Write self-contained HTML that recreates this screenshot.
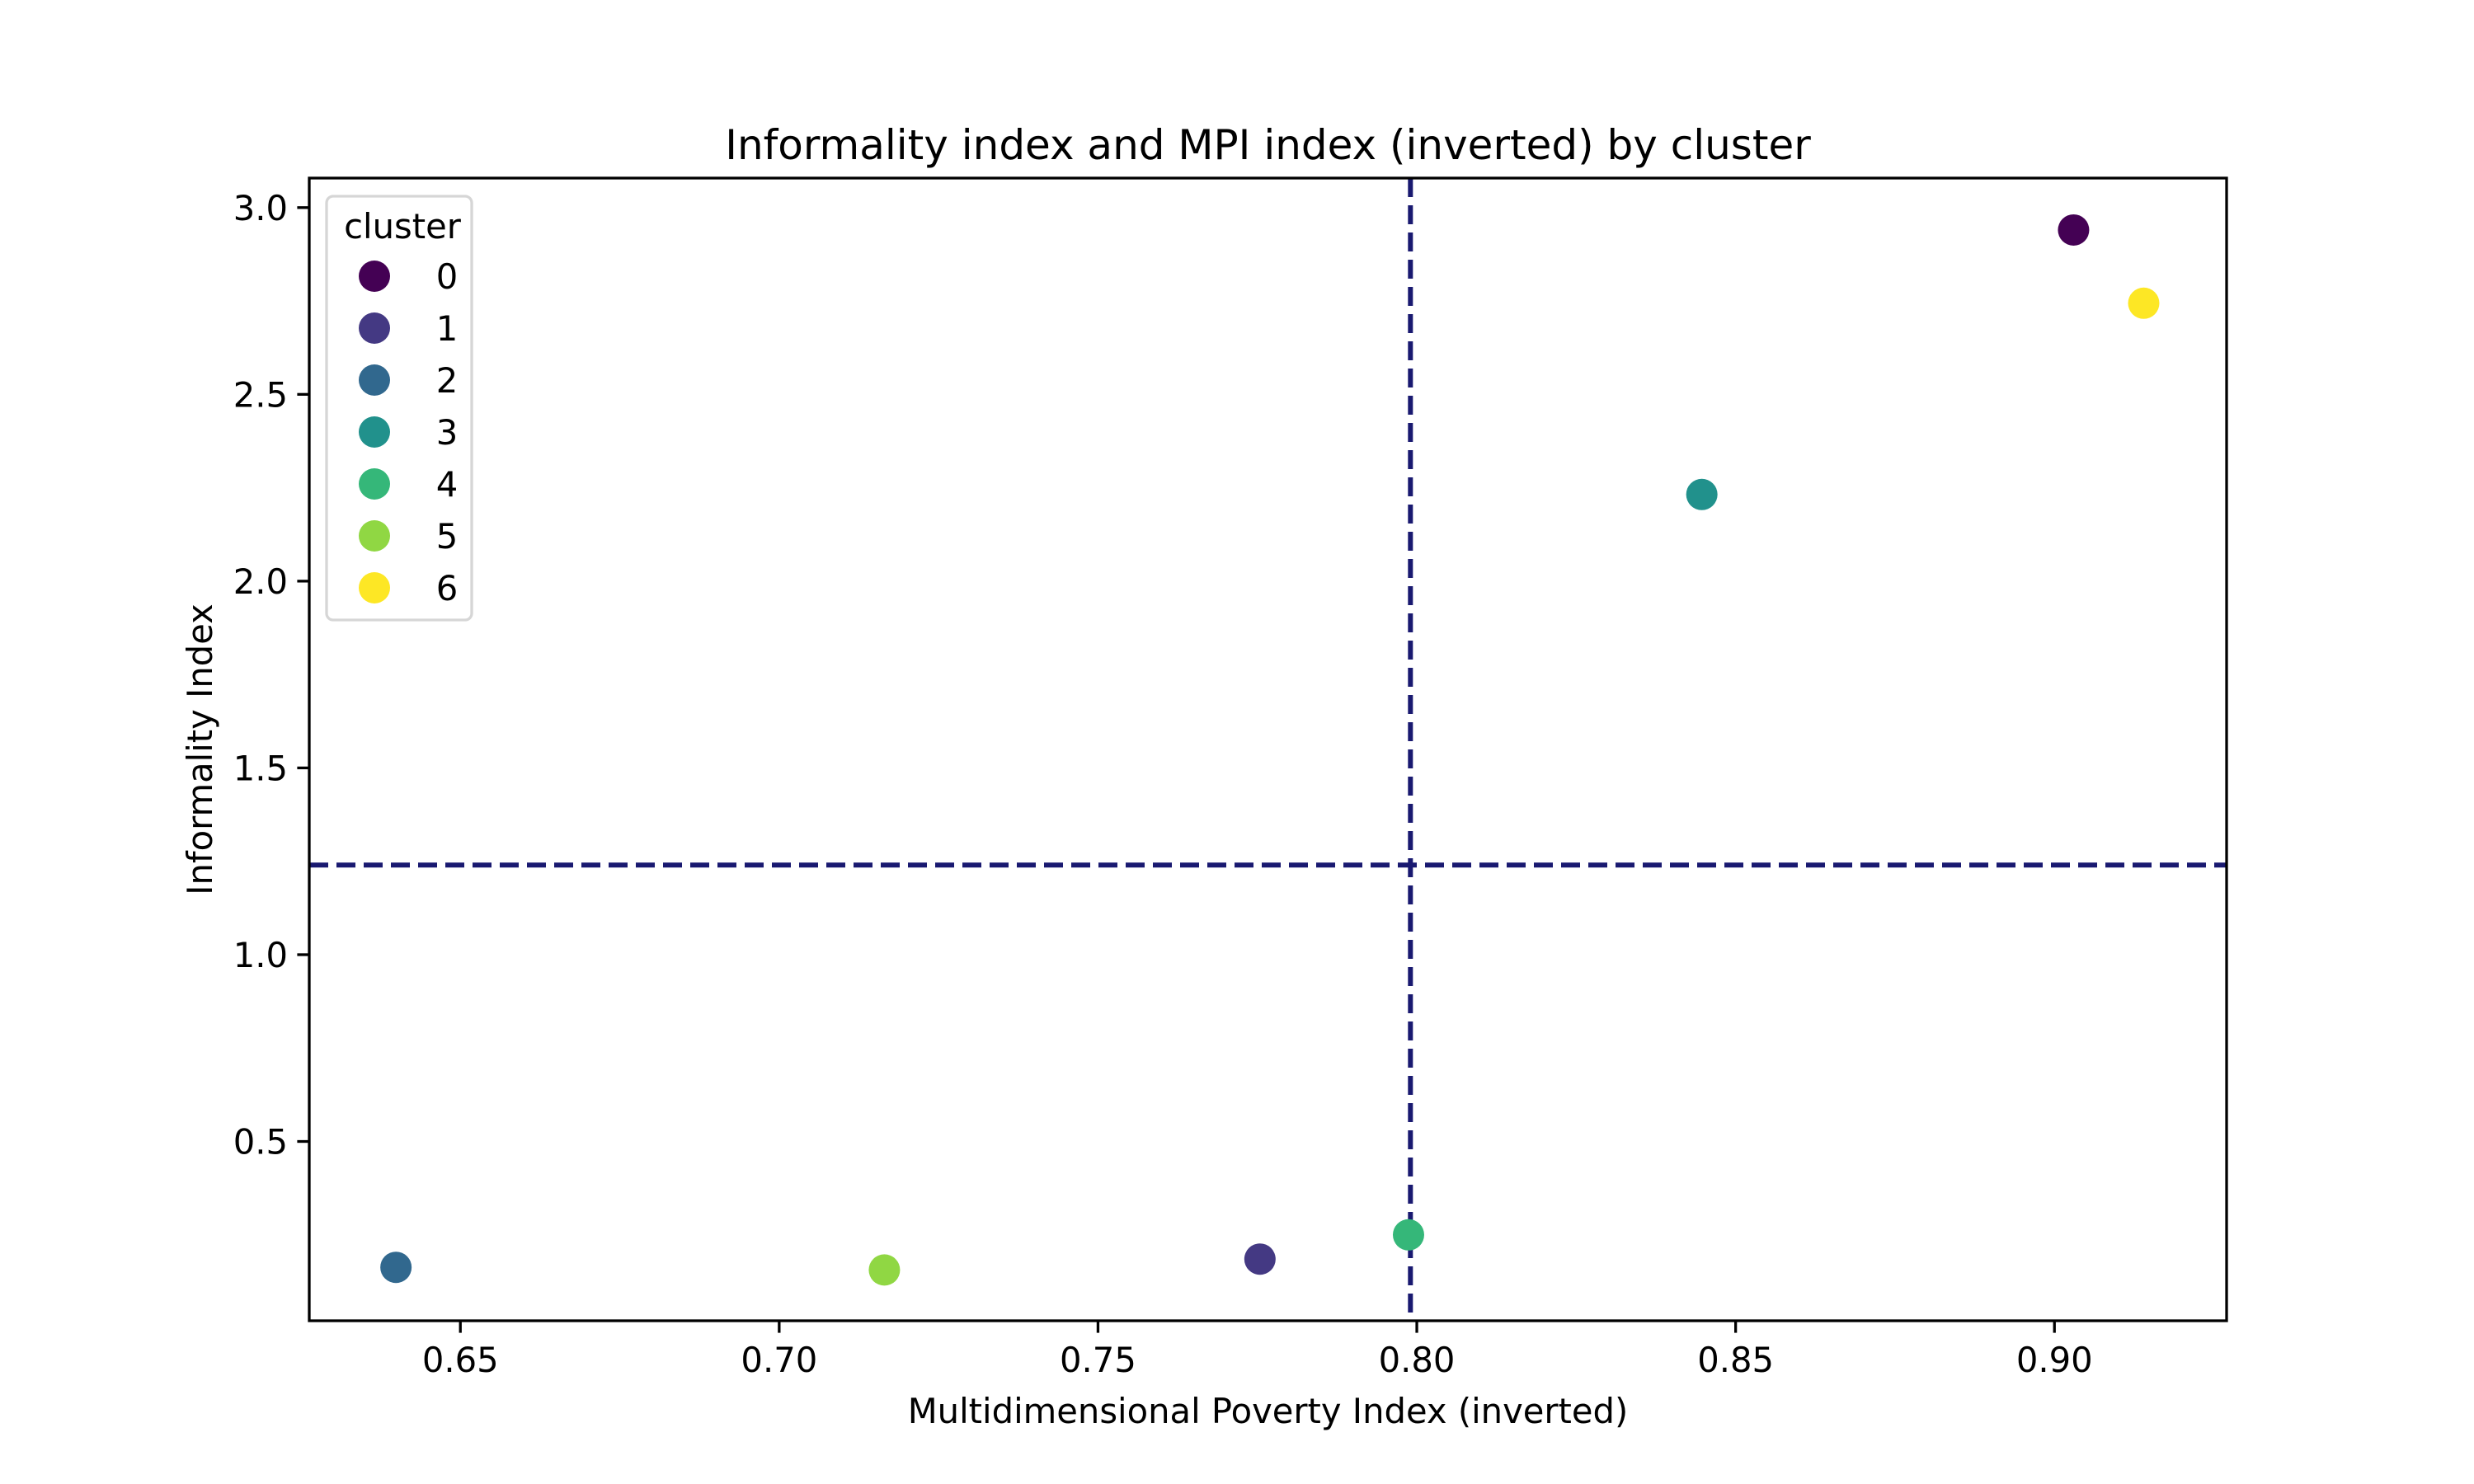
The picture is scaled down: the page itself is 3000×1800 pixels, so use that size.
<!DOCTYPE html>
<html><head><meta charset="utf-8"><style>html,body{margin:0;padding:0;background:#fff}svg{display:block}text{font-family:"DejaVu Sans","Liberation Sans",sans-serif;fill:#000}</style></head>
<body>
<svg id="chart" width="3000" height="1800" viewBox="0 0 3000 1800" xmlns="http://www.w3.org/2000/svg">
<rect x="0" y="0" width="3000" height="1800" fill="#fff"/>
<g id="plot"></g>
</svg>
<script>
const clusters = [0,1,2,3,4,5,6];
const mpiValues = [0.903,0.7754,0.6399,0.8447,0.7987,0.7165,0.914];
const informalityValues = [2.94,0.185,0.163,2.232,0.25,0.156,2.744];
const colors = ["#440154","#443983","#31688e","#21918c","#35b779","#90d743","#fde725"];
const xTicks = [0.65,0.70,0.75,0.80,0.85,0.90];
const yTicks = [0.5,1.0,1.5,2.0,2.5,3.0];
const vLine = 0.799;
const hLine = 1.24;

const L=375,R=2700,T=216,B=1602;
const xMin=0.6263,xMax=0.927,yMin=0.020,yMax=3.079;
const xs=v=>L+(v-xMin)/(xMax-xMin)*(R-L);
const ys=v=>B-(v-yMin)/(yMax-yMin)*(B-T);
const NS="http://www.w3.org/2000/svg";
const g=document.getElementById('plot');
function mk(tag,attrs,parent){const e=document.createElementNS(NS,tag);for(const k in attrs)e.setAttribute(k,attrs[k]);(parent||g).appendChild(e);return e;}

let e=mk('line',{x1:xs(vLine),x2:xs(vLine),y1:T,y2:B,stroke:'#191970','stroke-width':6,'stroke-dasharray':'23,10'});


e=mk('line',{x1:L,x2:R,y1:ys(hLine),y2:ys(hLine),stroke:'#191970','stroke-width':6,'stroke-dasharray':'23,10'});



clusters.forEach((c,i)=>{
  const p=mk('circle',{cx:xs(mpiValues[i]),cy:ys(informalityValues[i]),r:19,fill:colors[i]});
  
  
});

e=mk('rect',{x:L,y:T,width:R-L,height:B-T,fill:'none',stroke:'#000','stroke-width':3.3});



xTicks.forEach(v=>{
  const x=xs(v);
  let t=mk('line',{x1:x,x2:x,y1:B,y2:B+14.6,stroke:'#000','stroke-width':3.3});
  
  
  t=mk('text',{x:x,y:B+62,'font-size':41.7,'text-anchor':'middle'});
  t.textContent=v.toFixed(2);
  
  
});
yTicks.forEach(v=>{
  const y=ys(v);
  let t=mk('line',{x1:L-14.6,x2:L,y1:y,y2:y,stroke:'#000','stroke-width':3.3});
  
  
  t=mk('text',{x:L-26,y:y+15,'font-size':41.7,'text-anchor':'end'});
  t.textContent=v.toFixed(1);
  
  
});

e=mk('text',{x:(L+R)/2,y:193,'font-size':50,'text-anchor':'middle'});
e.textContent='Informality index and MPI index (inverted) by cluster';


e=mk('text',{x:(L+R)/2,y:1726,'font-size':41.7,'text-anchor':'middle'});
e.textContent='Multidimensional Poverty Index (inverted)';


e=mk('text',{x:0,y:0,'font-size':41.7,'text-anchor':'middle',transform:`translate(257,${(T+B)/2}) rotate(-90)`});
e.textContent='Informality Index';



const lg=mk('g',{});


e=mk('rect',{x:396,y:238,width:176,height:514,rx:8,fill:'#fff','fill-opacity':0.8,stroke:'#d6d6d6','stroke-width':3.3},lg);


e=mk('text',{x:488,y:289,'font-size':41.7,'text-anchor':'middle'},lg);
e.textContent='cluster';


clusters.forEach((c,i)=>{
  const y=335+i*63;
  const en=mk('g',{},lg);
  
  
  mk('circle',{cx:454,cy:y,r:19,fill:colors[i]},en);
  const t=mk('text',{x:542,y:y+15,'font-size':41.7,'text-anchor':'middle'},en);
  t.textContent=String(c);
});
</script>
</body></html>
